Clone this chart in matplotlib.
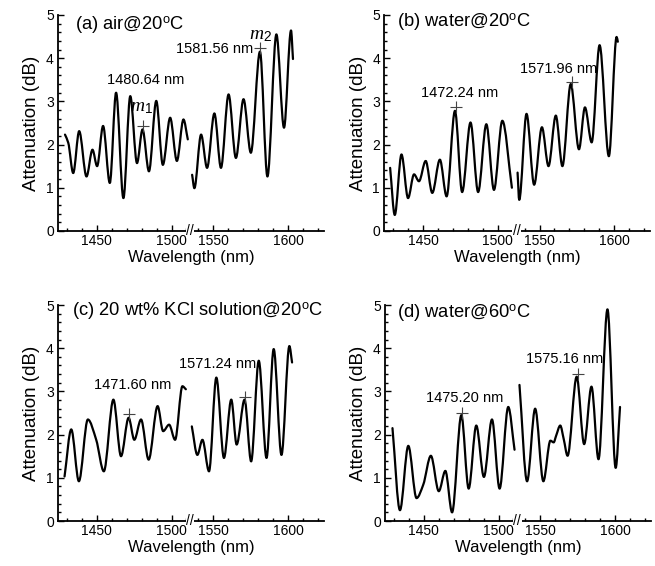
"""Attenuation spectra of the fibre sensor in four surroundings (broken wavelength axis)."""

import matplotlib
matplotlib.use("Agg")
import matplotlib.pyplot as plt
import matplotlib.transforms as mtransforms
import numpy as np
from matplotlib.patches import PathPatch
from matplotlib.path import Path

plt.rcParams["font.family"] = ["Liberation Sans", "DejaVu Sans"]
plt.rcParams["mathtext.fontset"] = "custom"
plt.rcParams["mathtext.rm"] = "Liberation Sans"
plt.rcParams["mathtext.it"] = "Liberation Serif:italic"

# ---- data (peaks / valleys of each trace) ----
a_wl_left = [1428.7, 1430.9, 1434.2, 1438.2, 1443.1, 1447.1, 1450.2, 1454.2, 1458.7, 1462.9,
             1467.8, 1472.4, 1476.9, 1480.6, 1484.9, 1489.8, 1494.2, 1499.1, 1503.6, 1508.0, 1510.9]
a_att_left = [2.23, 2.04, 1.34, 2.31, 1.26, 1.88, 1.50, 2.43, 1.11, 3.20,
              0.76, 3.12, 1.57, 2.35, 1.38, 3.01, 1.53, 2.62, 1.62, 2.58, 2.12]
a_wl_right = [1535.8, 1537.3, 1541.8, 1545.8, 1550.7, 1555.1, 1560.2, 1565.1, 1570.2, 1575.1,
              1581.2, 1586.2, 1592.2, 1597.3, 1602.0, 1603.3]
a_att_right = [1.30, 0.99, 2.23, 1.46, 2.72, 1.46, 3.16, 1.69, 3.05, 1.81,
               4.15, 1.26, 4.55, 2.39, 4.64, 3.98]

b_wl_left = [1428.0, 1431.1, 1435.6, 1440.0, 1444.0, 1447.3, 1451.8, 1456.2, 1461.3, 1465.8,
             1471.4, 1476.2, 1481.8, 1486.9, 1492.4, 1497.5, 1503.1, 1509.5]
b_att_left = [1.46, 0.37, 1.77, 0.76, 1.31, 1.15, 1.62, 0.88, 1.65, 0.80,
              2.78, 0.90, 2.51, 0.90, 2.47, 0.95, 2.55, 1.00]
b_wl_right = [1535.3, 1536.4, 1541.3, 1546.4, 1551.6, 1556.0, 1560.9, 1565.3, 1570.9, 1576.4,
              1580.4, 1584.9, 1590.2, 1596.4, 1601.6, 1602.4]
b_att_right = [1.35, 0.72, 2.71, 1.07, 2.40, 1.50, 2.67, 1.50, 3.40, 1.89,
               2.86, 2.05, 4.30, 1.73, 4.49, 4.38]

c_wl_left = [1428.4, 1432.9, 1438.0, 1444.0, 1449.6, 1454.7, 1461.1, 1466.2, 1471.3, 1475.1,
             1479.6, 1484.7, 1490.7, 1494.4, 1498.4, 1502.4, 1507.3, 1509.6]
c_att_left = [1.03, 2.12, 0.92, 2.35, 1.88, 1.15, 2.81, 1.50, 2.39, 1.88,
              2.35, 1.42, 2.66, 2.08, 2.23, 1.88, 3.12, 3.05]
c_wl_right = [1535.6, 1539.3, 1542.7, 1547.1, 1552.0, 1557.1, 1562.0, 1565.6, 1570.9, 1575.3,
              1580.4, 1585.6, 1590.4, 1595.6, 1600.9, 1602.7]
c_att_right = [2.19, 1.53, 1.88, 1.15, 3.32, 1.46, 2.81, 1.77, 2.81, 1.38,
               3.71, 1.46, 3.98, 1.53, 4.05, 3.67]

d_wl_left = [1429.0, 1434.0, 1439.6, 1445.1, 1449.6, 1454.7, 1460.0, 1464.4, 1468.9, 1475.1,
             1480.0, 1485.1, 1490.2, 1495.6, 1500.7, 1506.5, 1510.7]
d_att_left = [2.15, 0.25, 1.74, 0.53, 0.84, 1.51, 0.69, 1.16, 0.20, 2.45,
              0.75, 2.21, 1.02, 2.35, 0.75, 2.64, 1.65]
d_wl_right = [1536.0, 1541.1, 1546.5, 1552.0, 1556.7, 1558.9, 1560.5, 1563.3, 1565.6, 1568.2,
              1574.3, 1579.3, 1584.2, 1588.9, 1594.9, 1600.4, 1603.3]
d_att_right = [3.15, 0.92, 2.60, 0.92, 1.86, 1.82, 1.97, 2.21, 1.90, 1.51,
               3.34, 1.78, 3.11, 1.43, 4.90, 1.23, 2.64]

titles = ["(a) air@20$^{\\rm o}$C", "(b) water@20$^{\\rm o}$C",
          "(c) 20 wt% KCl solution@20$^{\\rm o}$C", "(d) water@60$^{\\rm o}$C"]
# marked resonance dips: (wavelength, attenuation of the "+" marker, label)
marks_a = [(1480.64, 2.44, "1480.64 nm"), (1581.56, 4.23, "1581.56 nm")]
marks_b = [(1472.24, 2.87, "1472.24 nm"), (1571.96, 3.44, "1571.96 nm")]
marks_c = [(1471.60, 2.47, "1471.60 nm"), (1571.24, 2.87, "1571.24 nm")]
marks_d = [(1475.20, 2.51, "1475.20 nm"), (1575.16, 3.41, "1575.16 nm")]

# label placement (data coords)
label_pos = [[(1483, 3.49), (1551, 4.21)],
             [(1474.5, 3.19), (1563, 3.75)],
             [(1473.8, 3.16), (1553, 3.64)],
             [(1477, 2.84), (1566, 3.76)]]
title_pos = [(0.064, 0.950), (0.05, 0.968), (0.052, 0.972), (0.046, 0.962)]

# broken axis: 1512..1535 nm squeezed out
XP = [1300.0, 1512.0, 1535.0, 1800.0]
UP = [1300.0, 1512.0, 1513.0, 1778.0]


def fwd(x):
    return np.interp(x, XP, UP)


def inv(u):
    return np.interp(u, UP, XP)


def smooth_path(x, y):
    """Monotone cubic through the read points, as bezier segments."""
    x = np.asarray(x, float)
    y = np.asarray(y, float)
    h = np.diff(x)
    d = np.diff(y) / h
    m = np.zeros_like(y)
    for i in range(1, len(y) - 1):
        if d[i - 1] * d[i] > 0:
            w1, w2 = 2 * h[i] + h[i - 1], h[i] + 2 * h[i - 1]
            m[i] = (w1 + w2) / (w1 / d[i - 1] + w2 / d[i])
    m[0], m[-1] = d[0], d[-1]
    verts = [(x[0], y[0])]
    codes = [Path.MOVETO]
    for i in range(len(h)):
        verts += [(x[i] + h[i] / 3, y[i] + m[i] * h[i] / 3),
                  (x[i + 1] - h[i] / 3, y[i + 1] - m[i + 1] * h[i] / 3),
                  (x[i + 1], y[i + 1])]
        codes += [Path.CURVE4] * 3
    return Path(verts, codes)


panels = [
    (a_wl_left, a_att_left, a_wl_right, a_att_right, marks_a),
    (b_wl_left, b_att_left, b_wl_right, b_att_right, marks_b),
    (c_wl_left, c_att_left, c_wl_right, c_att_right, marks_c),
    (d_wl_left, d_att_left, d_wl_right, d_att_right, marks_d),
]
rects = [[0.0885, 0.592, 0.406, 0.3816], [0.5865, 0.592, 0.406, 0.3816],
         [0.0885, 0.0795, 0.406, 0.3816], [0.5878, 0.0795, 0.406, 0.3816]]

fig = plt.figure(figsize=(6.55, 5.66), dpi=100)
minor_x = [v for v in range(1430, 1511, 10) if v % 50] + [v for v in range(1540, 1621, 10) if v % 50]

for k, (wl_l, att_l, wl_r, att_r, marks) in enumerate(panels):
    ax = fig.add_axes(rects[k])
    ax.set_xscale("function", functions=(fwd, inv))
    ax.set_xlim(1424, 1624)
    ax.set_ylim(0, 5)
    for xs, ys in [(wl_l, att_l), (wl_r, att_r)]:
        ax.add_patch(PathPatch(smooth_path(xs, ys), fill=False, edgecolor="black",
                               linewidth=1.6, joinstyle="round", capstyle="round", zorder=3))
    for (wl, att, lab), (tx, ty) in zip(marks, label_pos[k]):
        ax.plot([wl], [att], marker="+", color="#444444", markersize=8, mew=0.8, zorder=4)
        ax.text(tx, ty, lab, ha="center", va="center", fontsize=10.5)
    if k == 0:
        ax.text(1480, 2.86, "$m_1$", ha="center", va="center", fontsize=14)
        ax.text(1581.3, 4.53, "$m_2$", ha="center", va="center", fontsize=14)

    tx, ty = title_pos[k]
    ax.text(tx, ty, titles[k], transform=ax.transAxes, ha="left", va="center", fontsize=13.2)

    ax.set_xticks([1450, 1500, 1550, 1600])
    ax.set_xticklabels(["1450", "1500", "1550", "1600"])
    ax.set_xticks(minor_x, minor=True)
    ax.set_yticks(range(6))
    ax.set_yticks(np.arange(0, 5.01, 0.2), minor=True)
    ax.tick_params(which="both", direction="in", top=False, right=False, width=1, labelsize=10)
    ax.tick_params(which="major", length=4)
    ax.tick_params(which="minor", length=2)
    ax.tick_params(axis="x", pad=2)
    ax.tick_params(axis="y", pad=3)
    for side in ("top", "right"):
        ax.spines[side].set_visible(False)
    for side in ("left", "bottom"):
        ax.spines[side].set_linewidth(1.3)
    ax.set_xlabel("Wavelength (nm)", fontsize=12, labelpad=1.5)
    ax.set_ylabel("Attenuation (dB)", fontsize=13.5, labelpad=4)

    # break mark on the wavelength axis
    trans = mtransforms.blended_transform_factory(ax.transData, ax.transAxes)
    ax.text(1523.5, 0, "//", transform=trans, ha="center", va="center", fontsize=10,
            bbox=dict(facecolor="white", edgecolor="none", pad=0.3), zorder=5, clip_on=False)

fig.savefig("out.png", dpi=100)
